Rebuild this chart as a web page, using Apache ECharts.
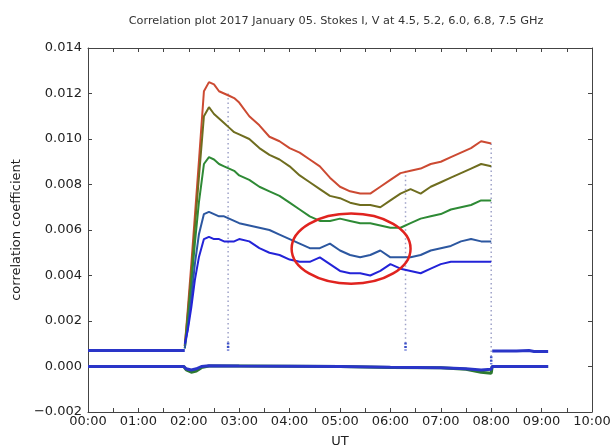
<!DOCTYPE html>
<html>
<head>
<meta charset="utf-8">
<script src="https://cdn.jsdelivr.net/npm/echarts@6/dist/echarts.min.js"></script>
<style>
  html, body { margin: 0; padding: 0; background: #fff; }
  #chart { width: 610px; height: 445px; }
</style>
</head>
<body>
<div id="chart"></div>
<script>
// UT in hours
const times = [1.92, 1.98, 2.05, 2.12, 2.2, 2.3, 2.4, 2.5, 2.6, 2.7, 2.8, 2.9, 3.0, 3.2, 3.4, 3.6, 3.8, 4.0,
  4.2, 4.4, 4.6, 4.8, 5.0, 5.2, 5.4, 5.6, 5.8, 6.0, 6.2, 6.4, 6.6, 6.8, 7.0, 7.2, 7.4, 7.6, 7.8, 8.0]

const i45 = [0.0009, 0.0025, 0.0045, 0.0066, 0.0090, 0.0121, 0.0125, 0.0124, 0.0121, 0.0120, 0.0119, 0.0118, 0.0116,
  0.0110, 0.0106, 0.0101, 0.0099, 0.0096, 0.0094, 0.0091, 0.0088, 0.0083, 0.0079, 0.0077, 0.0076, 0.0076, 0.0079,
  0.0082, 0.0085, 0.0086, 0.0087, 0.0089, 0.0090, 0.0092, 0.0094, 0.0096, 0.0099, 0.0098]
const i52 = [0.0009, 0.0023, 0.0041, 0.0061, 0.0083, 0.0110, 0.0114, 0.0111, 0.0109, 0.0107, 0.0105, 0.0103, 0.0102,
  0.0100, 0.0096, 0.0093, 0.0091, 0.0088, 0.0084, 0.0081, 0.0078, 0.0075, 0.0074, 0.0072, 0.0071, 0.0071, 0.0070,
  0.0073, 0.0076, 0.0078, 0.0076, 0.0079, 0.0081, 0.0083, 0.0085, 0.0087, 0.0089, 0.0088]
const i60 = [0.0008, 0.0020, 0.0036, 0.0054, 0.0072, 0.0089, 0.0092, 0.0091, 0.0089, 0.0088, 0.0087, 0.0086, 0.0084,
  0.0082, 0.0079, 0.0077, 0.0075, 0.0072, 0.0069, 0.0066, 0.0064, 0.0064, 0.0065, 0.0064, 0.0063, 0.0063, 0.0062,
  0.0061, 0.0061, 0.0063, 0.0065, 0.0066, 0.0067, 0.0069, 0.0070, 0.0071, 0.0073, 0.0073]
const i68 = [0.0008, 0.0017, 0.0030, 0.0045, 0.0058, 0.0067, 0.0068, 0.0067, 0.0066, 0.0066, 0.0065, 0.0064, 0.0063,
  0.0062, 0.0061, 0.0060, 0.0058, 0.0056, 0.0054, 0.0052, 0.0052, 0.0054, 0.0051, 0.0049, 0.0048, 0.0049, 0.0051,
  0.0048, 0.0048, 0.0048, 0.0049, 0.0051, 0.0052, 0.0053, 0.0055, 0.0056, 0.0055, 0.0055]
const i75 = [0.0010, 0.0016, 0.0026, 0.0038, 0.0048, 0.0056, 0.0057, 0.0056, 0.0056, 0.0055, 0.0055, 0.0055, 0.0056,
  0.0055, 0.0052, 0.0050, 0.0049, 0.0047, 0.0046, 0.0046, 0.0048, 0.0045, 0.0042, 0.0041, 0.0041, 0.0040, 0.0042,
  0.0045, 0.0043, 0.0042, 0.0041, 0.0043, 0.0045, 0.0046, 0.0046, 0.0046, 0.0046, 0.0046]

// flat level outside the observing window
const preTimes = [0, 1.92]
const preVals = [0.0007, 0.0007]
const postTimes = [8.02, 8.5, 8.75, 8.85, 9.13]
const postVals = [0.00068, 0.00068, 0.00070, 0.00066, 0.00066]

// Stokes V, close to zero
const vTimes = [0, 1.9, 1.95, 2.05, 2.15, 2.25, 2.4, 3.0, 4.0, 5.0, 6.0, 7.0, 7.5, 7.8, 8.0, 8.02, 9.13]
const vGreen = [0, 0, -0.00015, -0.00025, -0.0002, -0.00005, 0.00002, 0.00002, 0.00001, 0, -0.00004, -0.00006,
  -0.00012, -0.00025, -0.0003, 0, 0]
const vBlue = [0, 0, -0.0001, -0.00015, -0.0001, 0, 0.00003, 0.00002, 0.00001, 0, -0.00003, -0.00005,
  -0.0001, -0.00015, -0.00012, 0, 0]

// calibration dropouts: [time, top, bottom]
const dropouts = [[2.78, 0.0120, 0.0007], [6.3, 0.0086, 0.0007], [8.0, 0.0098, 0.0001]]

// highlighted region: centre and half-widths in data units
const ellipse = { t: 5.22, v: 0.00518, dt: 1.18, dv: 0.00154 }

const xTicks = ['00:00', '01:00', '02:00', '03:00', '04:00', '05:00', '06:00', '07:00', '08:00', '09:00', '10:00']

const pair = (xs, ys) => xs.map((x, i) => [x, ys[i]])

const chart = echarts.init(document.getElementById('chart'))

const font = 'DejaVu Sans'
const axisLine = { show: true, onZero: false, lineStyle: { color: '#444', width: 1 } }
const tick = { show: true, inside: true, length: 4, lineStyle: { color: '#444' } }
const minor = { show: true, splitNumber: 2, length: 4, lineStyle: { color: '#444' } }

const mainLine = (data, color, width = 2) => ({
  type: 'line',
  data,
  symbol: 'none',
  lineStyle: { width, color },
  z: 3,
})

const dropSeries = []
dropouts.forEach(([t, top, bottom]) => {
  dropSeries.push({
    type: 'line',
    data: [[t, top], [t, bottom]],
    symbol: 'none',
    lineStyle: { width: 1.5, color: '#9ea2c8', type: [1.5, 3] },
    z: 2,
  })
  dropSeries.push({
    type: 'line',
    data: [[t, bottom + 0.00035], [t, bottom]],
    symbol: 'none',
    lineStyle: { width: 2.5, color: '#3b4fc8', type: [2, 1.5] },
    z: 2,
  })
})

const option = {
  animation: false,
  title: {
    text: 'Correlation plot 2017 January 05. Stokes I, V at 4.5, 5.2, 6.0, 6.8, 7.5 GHz',
    left: 331,
    top: 11,
    textAlign: 'center',
    textStyle: { fontFamily: font, fontSize: 11.3, fontWeight: 'normal', color: '#333' },
  },
  grid: { left: 88, right: 18, top: 48, bottom: 33, outerBoundsMode: 'none', containLabel: false },
  xAxis: [
    {
      type: 'value',
      min: 0,
      max: 10,
      interval: 1,
      name: 'UT',
      nameLocation: 'middle',
      nameGap: 23,
      nameTextStyle: { fontFamily: font, fontSize: 13, color: '#222' },
      axisLine,
      axisTick: tick,
      minorTick: minor,
      splitLine: { show: false },
      axisLabel: {
        fontFamily: font, fontSize: 13, color: '#222', margin: 3,
        formatter: (v) => xTicks[Math.round(v)],
      },
    },
    {
      type: 'value',
      position: 'top',
      min: 0,
      max: 10,
      interval: 1,
      axisLine,
      axisTick: tick,
      minorTick: minor,
      splitLine: { show: false },
      axisLabel: { show: false },
    },
  ],
  yAxis: [
    {
      type: 'value',
      min: -0.002,
      max: 0.014,
      interval: 0.002,
      name: 'correlation coefficient',
      nameLocation: 'middle',
      nameGap: 62,
      nameTextStyle: { fontFamily: font, fontSize: 13, color: '#222' },
      axisLine,
      axisTick: tick,
      splitLine: { show: false },
      axisLabel: {
        fontFamily: font, fontSize: 13, color: '#222', margin: 6,
        formatter: (v) => (v < 0 ? '\u22120.002' : v.toFixed(3)),
      },
    },
    {
      type: 'value',
      position: 'right',
      min: -0.002,
      max: 0.014,
      interval: 0.002,
      axisLine,
      axisTick: tick,
      splitLine: { show: false },
      axisLabel: { show: false },
    },
  ],
  series: [
    ...dropSeries,
    mainLine(pair(times, i45), '#cc4a32'),
    mainLine(pair(times, i52), '#6f6d1f'),
    mainLine(pair(times, i60), '#2e8a35'),
    mainLine(pair(times, i68), '#2c57a0'),
    mainLine(pair(times, i75), '#2323d8'),
    mainLine(pair(preTimes, preVals), '#2a35c8', 3),
    mainLine(pair(postTimes, postVals), '#2a35c8', 3),
    mainLine(pair(vTimes, vGreen), '#2e7a30', 3),
    mainLine(pair(vTimes, vBlue), '#2a35c8', 3),
    {
      type: 'custom',
      data: [[ellipse.t, ellipse.v]],
      z: 5,
      renderItem: (params, api) => {
        const c = api.coord([api.value(0), api.value(1)])
        const s = api.size([ellipse.dt, ellipse.dv])
        const rx = s[0], ry = s[1]
        return {
          type: 'path',
          shape: {
            pathData: `M ${c[0] - rx} ${c[1]} A ${rx} ${ry} 0 1 0 ${c[0] + rx} ${c[1]} A ${rx} ${ry} 0 1 0 ${c[0] - rx} ${c[1]} Z`,
            x: c[0] - rx, y: c[1] - ry, width: rx * 2, height: ry * 2,
          },
          style: { fill: 'none', stroke: '#e0231f', lineWidth: 2.5 },
        }
      },
    },
  ],
}

chart.setOption(option)
</script>
</body>
</html>
